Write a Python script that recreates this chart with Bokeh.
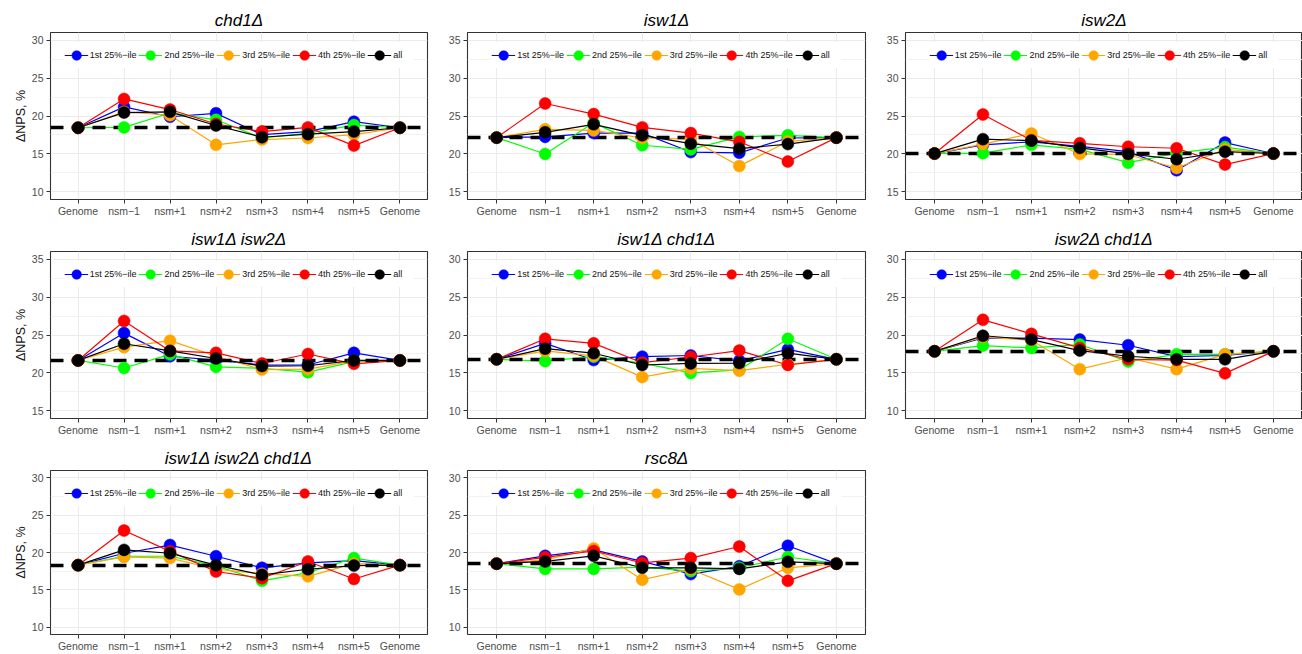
from bokeh.plotting import figure
from bokeh.layouts import column, row
from bokeh.models import Range1d, FixedTicker, Legend, LegendItem
from bokeh.embed import file_html
from bokeh.resources import INLINE

# ---- categories / labels -------------------------------------------------
x_labels = ["Genome", "nsm\u22121", "nsm+1", "nsm+2", "nsm+3", "nsm+4", "nsm+5", "Genome"]
series_names = ["1st 25%\u2212ile", "2nd 25%\u2212ile", "3rd 25%\u2212ile", "4th 25%\u2212ile", "all"]
series_colors = ["#0000FF", "#00FF00", "#FFA500", "#FF0000", "#000000"]

# ---- ΔNPS (%) per strain, quartile series and overall --------------------
chd1_q1 = [18.45, 21.2, 19.9, 20.35, 17.55, 17.95, 19.25, 18.45]
chd1_q2 = [18.45, 18.5, 20.4, 19.5, 17.1, 17.75, 18.8, 18.45]
chd1_q3 = [18.45, 20.55, 20.1, 16.2, 16.9, 17.1, 17.55, 18.45]
chd1_q4 = [18.45, 22.25, 20.85, 18.95, 17.95, 18.5, 16.1, 18.45]
chd1_all = [18.45, 20.45, 20.55, 18.75, 17.2, 17.6, 17.95, 18.45]

isw1_q1 = [22.15, 22.25, 22.75, 22.75, 20.25, 20.15, 22.1, 22.15]
isw1_q2 = [22.15, 20.0, 24.1, 21.15, 20.6, 22.25, 22.45, 22.15]
isw1_q3 = [22.15, 23.25, 23.1, 22.1, 21.95, 18.4, 21.65, 22.15]
isw1_q4 = [22.15, 26.65, 25.25, 23.5, 22.75, 21.6, 19.0, 22.15]
isw1_all = [22.15, 22.85, 23.9, 22.45, 21.35, 20.7, 21.3, 22.15]

isw2_q1 = [20.05, 21.2, 21.6, 21.0, 20.3, 17.85, 21.5, 20.05]
isw2_q2 = [20.05, 20.1, 21.2, 20.6, 18.85, 20.1, 20.9, 20.05]
isw2_q3 = [20.05, 21.3, 22.7, 20.0, 19.9, 18.15, 20.6, 20.05]
isw2_q4 = [20.05, 25.2, 21.8, 21.4, 20.95, 20.75, 18.6, 20.05]
isw2_all = [20.05, 21.95, 21.75, 20.8, 20.0, 19.3, 20.3, 20.05]

isw1isw2_q1 = [21.65, 25.25, 22.2, 21.7, 21.05, 21.05, 22.65, 21.65]
isw1isw2_q2 = [21.65, 20.65, 22.45, 20.8, 20.6, 20.1, 21.5, 21.65]
isw1isw2_q3 = [21.65, 23.4, 24.25, 22.2, 20.45, 20.5, 21.6, 21.65]
isw1isw2_q4 = [21.65, 26.85, 22.9, 22.65, 21.25, 22.5, 21.2, 21.65]
isw1isw2_all = [21.65, 23.85, 22.9, 21.9, 20.9, 20.95, 21.65, 21.65]

isw1chd1_q1 = [16.8, 18.9, 16.7, 17.15, 17.3, 16.6, 18.1, 16.8]
isw1chd1_q2 = [16.8, 16.55, 17.15, 16.3, 15.0, 15.4, 19.5, 16.8]
isw1chd1_q3 = [16.8, 17.9, 17.25, 14.45, 15.6, 15.3, 16.15, 16.8]
isw1chd1_q4 = [16.8, 19.5, 18.9, 16.35, 17.1, 17.95, 16.05, 16.8]
isw1chd1_all = [16.8, 18.2, 17.6, 16.05, 16.25, 16.3, 17.6, 16.8]

isw2chd1_q1 = [17.85, 19.6, 19.6, 19.4, 18.65, 17.15, 17.3, 17.85]
isw2chd1_q2 = [17.85, 18.6, 18.3, 18.75, 16.5, 17.45, 17.45, 17.85]
isw2chd1_q3 = [17.85, 19.75, 19.3, 15.5, 17.0, 15.5, 17.45, 17.85]
isw2chd1_q4 = [17.85, 22.0, 20.15, 18.3, 16.8, 16.7, 14.95, 17.85]
isw2chd1_all = [17.85, 19.9, 19.4, 17.95, 17.2, 16.8, 16.8, 17.85]

triple_q1 = [18.3, 19.9, 21.0, 19.5, 17.95, 18.6, 18.9, 18.3]
triple_q2 = [18.3, 19.5, 19.5, 18.2, 16.2, 17.3, 19.25, 18.3]
triple_q3 = [18.3, 19.4, 19.25, 17.75, 17.15, 16.8, 18.5, 18.3]
triple_q4 = [18.3, 22.95, 20.15, 17.45, 16.55, 18.8, 16.45, 18.3]
triple_all = [18.3, 20.35, 19.9, 18.3, 17.0, 17.75, 18.25, 18.3]

rsc8_q1 = [18.5, 19.55, 20.35, 18.8, 17.1, 18.15, 20.9, 18.5]
rsc8_q2 = [18.5, 17.8, 17.8, 18.05, 17.5, 17.95, 19.4, 18.5]
rsc8_q3 = [18.5, 19.0, 20.55, 16.35, 17.75, 15.05, 17.95, 18.5]
rsc8_q4 = [18.5, 19.35, 20.2, 18.6, 19.25, 20.8, 16.2, 18.5]
rsc8_all = [18.5, 18.8, 19.55, 17.95, 17.95, 17.8, 18.75, 18.5]

panel_titles = ["chd1\u0394", "isw1\u0394", "isw2\u0394",
                "isw1\u0394 isw2\u0394", "isw1\u0394 chd1\u0394", "isw2\u0394 chd1\u0394",
                "isw1\u0394 isw2\u0394 chd1\u0394", "rsc8\u0394"]
panel_limits = [(10, 30), (15, 35), (15, 35), (15, 35), (10, 30), (10, 30), (10, 30), (10, 30)]
panel_series = [
    [chd1_q1, chd1_q2, chd1_q3, chd1_q4, chd1_all],
    [isw1_q1, isw1_q2, isw1_q3, isw1_q4, isw1_all],
    [isw2_q1, isw2_q2, isw2_q3, isw2_q4, isw2_all],
    [isw1isw2_q1, isw1isw2_q2, isw1isw2_q3, isw1isw2_q4, isw1isw2_all],
    [isw1chd1_q1, isw1chd1_q2, isw1chd1_q3, isw1chd1_q4, isw1chd1_all],
    [isw2chd1_q1, isw2chd1_q2, isw2chd1_q3, isw2chd1_q4, isw2chd1_all],
    [triple_q1, triple_q2, triple_q3, triple_q4, triple_all],
    [rsc8_q1, rsc8_q2, rsc8_q3, rsc8_q4, rsc8_all],
]

FONT = "Liberation Sans"
positions = list(range(1, len(x_labels) + 1))

# per-column borders so every frame lines up like a faceted grid
COL_LEFT = [50, 33, 37]
COL_RIGHT = [7, 3, 0]


def make_panel(idx):
    col, rw = idx % 3, idx // 3
    lo, hi = panel_limits[idx]
    pad = (hi - lo) * 0.05
    height = 216 if rw == 2 else 219
    p = figure(width=434, height=height,
               x_range=Range1d(0.4, len(x_labels) + 0.6),
               y_range=Range1d(lo - pad, hi + pad),
               output_backend="svg", toolbar_location=None,
               min_border_left=COL_LEFT[col], min_border_right=COL_RIGHT[col],
               min_border_top=32, min_border_bottom=17,
               background_fill_color="white", border_fill_color="white",
               outline_line_color="#333333", outline_line_width=1.1,
               title=panel_titles[idx])
    p.title.align = "center"
    p.title.text_font = FONT
    p.title.text_font_style = "italic"
    p.title.text_font_size = "17px"
    p.title.text_color = "#000000"
    p.title.standoff = 5

    # axes
    p.xaxis.ticker = FixedTicker(ticks=positions)
    p.xaxis.major_label_overrides = {pos: lab for pos, lab in zip(positions, x_labels)}
    p.yaxis.ticker = FixedTicker(ticks=list(range(lo, hi + 1, 5)),
                                 minor_ticks=[t + 2.5 for t in range(lo - 5, hi + 5, 5)])
    for ax in (p.xaxis[0], p.yaxis[0]):
        ax.axis_line_color = None
        ax.major_tick_line_color = "#333333"
        ax.major_tick_line_width = 1
        ax.major_tick_out = 4
        ax.major_tick_in = 0
        ax.minor_tick_line_color = None
        ax.major_label_text_font = FONT
        ax.major_label_text_font_size = "10.5px"
        ax.major_label_text_color = "#4D4D4D"
    p.xaxis.major_label_standoff = 1
    p.yaxis.major_label_standoff = 3
    if col == 0:
        p.yaxis.axis_label = "\u0394NPS, %"
        p.yaxis.axis_label_text_font = FONT
        p.yaxis.axis_label_text_font_style = "normal"
        p.yaxis.axis_label_text_font_size = "12.5px"
        p.yaxis.axis_label_text_color = "#111111"
        p.yaxis.axis_label_standoff = 1

    # grid
    p.xgrid.grid_line_color = "#EBEBEB"
    p.xgrid.grid_line_width = 1.1
    p.ygrid.grid_line_color = "#EBEBEB"
    p.ygrid.grid_line_width = 1.1
    p.ygrid.minor_grid_line_color = "#EFEFEF"
    p.ygrid.minor_grid_line_width = 0.8

    series = panel_series[idx]
    lines = [p.line(positions, ys, line_color=c, line_width=1.2)
             for ys, c in zip(series, series_colors)]
    # genome-wide reference level
    p.hspan(y=[series[-1][0]], line_color="black", line_width=3.5, line_dash="13 8")
    points = [p.scatter(positions, ys, size=12, fill_color=c, line_color=c, line_width=0.5)
              for ys, c in zip(series, series_colors)]

    items = [LegendItem(label=name, renderers=[ln, pt])
             for name, ln, pt in zip(series_names, lines, points)]
    legend = Legend(items=items, orientation="horizontal", location="top_center",
                    glyph_width=24, glyph_height=26, label_standoff=2, spacing=2,
                    padding=2, margin=10,
                    label_text_font=FONT, label_text_font_size="9px",
                    label_text_color="#111111",
                    background_fill_color="white", background_fill_alpha=1.0,
                    border_line_color=None)
    p.add_layout(legend, "center")
    return p


panels = [make_panel(i) for i in range(len(panel_titles))]
layout = column(row(*panels[0:3]), row(*panels[3:6]), row(*panels[6:8]))

open("out.html", "w").write(file_html(layout, INLINE))
